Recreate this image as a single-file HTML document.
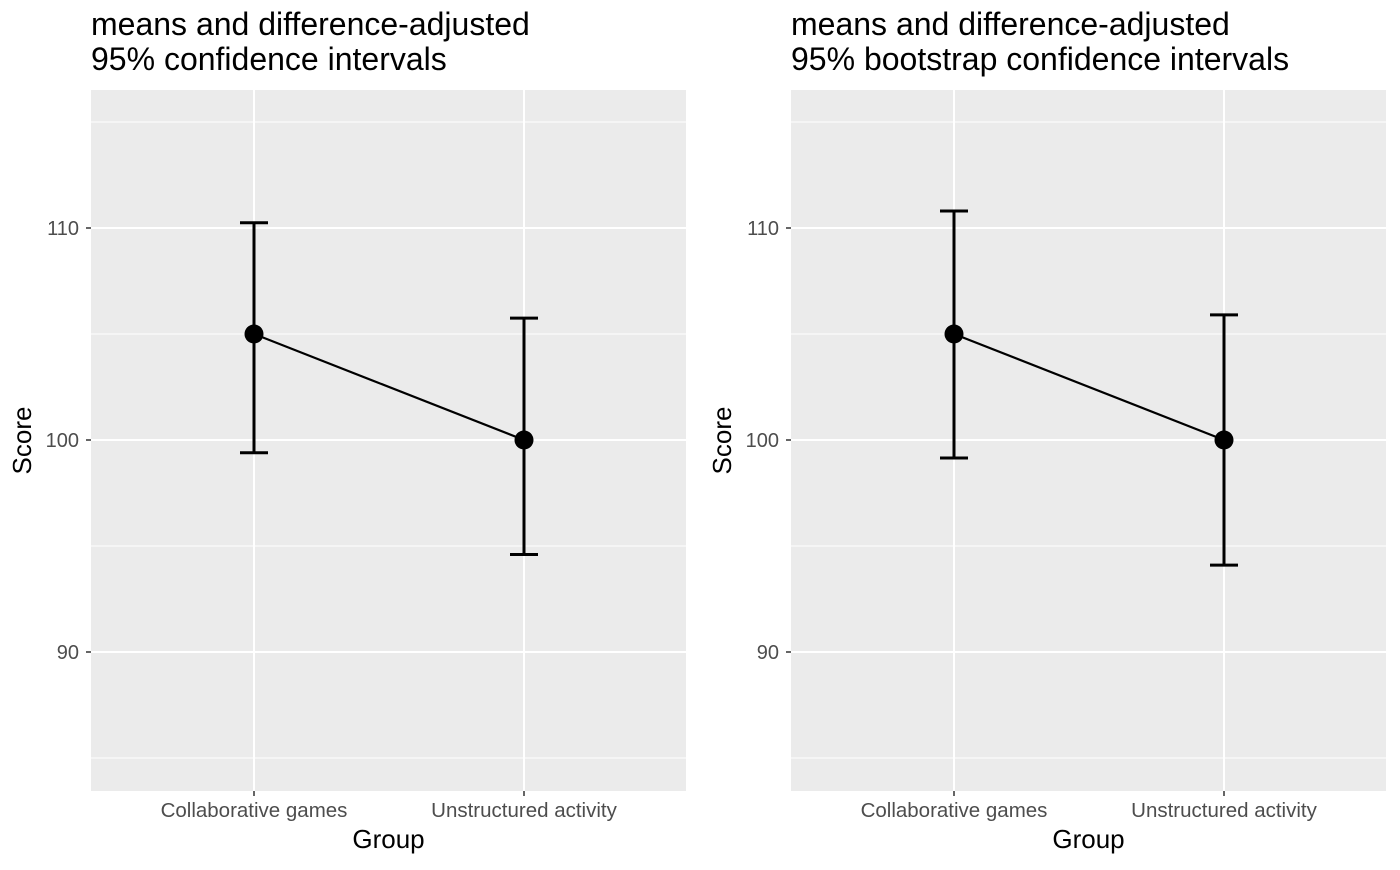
<!DOCTYPE html>
<html><head><meta charset="utf-8"><style>
body{margin:0;background:#fff;}
svg{font-family:"Liberation Sans",Arial,sans-serif;}
</style></head><body>
<svg id="c" width="1400" height="865" xmlns="http://www.w3.org/2000/svg"></svg>
<script>
const categories=["Collaborative games","Unstructured activity"];
const means=[105,100];
const leftLower=[99.4,94.6];
const leftUpper=[110.25,105.75];
const rightLower=[99.15,94.1];
const rightUpper=[110.8,105.9];
const yTicks=[90,100,110];
const yMinor=[85,95,105,115];
const titles=[["means and difference-adjusted","95% confidence intervals"],["means and difference-adjusted","95% bootstrap confidence intervals"]];
const NS="http://www.w3.org/2000/svg";
const svg=document.getElementById('c');
function mk(tag,attrs,parent){const e=document.createElementNS(NS,tag);for(const k in attrs)e.setAttribute(k,attrs[k]);(parent||svg).appendChild(e);return e;}
function panel(px0,lower,upper,tl,idx){
  const x0=px0,x1=px0+595,y0=90,y1=791;
  const yv=v=>440-(v-100)*21.2;
  const xc=i=>x0+163+i*270;
  const g=mk('g',{});
  
  
  const bg=mk('rect',{x:x0,y:y0,width:x1-x0,height:y1-y0,fill:'#EBEBEB'},g);
  
  yMinor.forEach(v=>{const l=mk('line',{x1:x0,x2:x1,y1:yv(v),y2:yv(v),stroke:'#fff','stroke-width':1},g);});
  yTicks.forEach(v=>{const l=mk('line',{x1:x0,x2:x1,y1:yv(v),y2:yv(v),stroke:'#fff','stroke-width':2},g);
    const t=mk('line',{x1:x0-5,x2:x0,y1:yv(v),y2:yv(v),stroke:'#333','stroke-width':1.5},g);
    const tx=mk('text',{x:x0-12,y:yv(v)+7,'text-anchor':'end','font-size':20,fill:'#4D4D4D'},g);tx.textContent=v;});
  categories.forEach((c,i)=>{const l=mk('line',{x1:xc(i),x2:xc(i),y1:y0,y2:y1,stroke:'#fff','stroke-width':2},g);
    const t=mk('line',{x1:xc(i),x2:xc(i),y1:y1,y2:y1+5,stroke:'#333','stroke-width':1.5},g);
    const tx=mk('text',{x:xc(i),y:y1+26,'text-anchor':'middle','font-size':20.5,fill:'#4D4D4D'},g);tx.textContent=c;});
  const ln=mk('line',{x1:xc(0),y1:yv(means[0]),x2:xc(1),y2:yv(means[1]),stroke:'#000','stroke-width':2.2},g);
  
  categories.forEach((c,i)=>{
    const x=xc(i),a=yv(upper[i]),b=yv(lower[i]);
    const e=mk('path',{d:`M${x-14},${a}H${x+14}M${x},${a}V${b}M${x-14},${b}H${x+14}`,stroke:'#000','stroke-width':3,fill:'none'},g);
    
    const p=mk('circle',{cx:x,cy:yv(means[i]),r:9.5,fill:'#000'},g);
    
  });
  tl.forEach((s,k)=>{const t=mk('text',{x:x0,y:35+k*35,'font-size':32,fill:'#000'},g);t.textContent=s;});
  const xt=mk('text',{x:(x0+x1)/2,y:848,'text-anchor':'middle','font-size':26},g);xt.textContent='Group';
  const yt=mk('text',{x:0,y:0,'text-anchor':'middle','font-size':26,transform:`translate(${x0-60},${(y0+y1)/2}) rotate(-90)`},g);yt.textContent='Score';
}
panel(91,leftLower,leftUpper,titles[0],0);
panel(791,rightLower,rightUpper,titles[1],1);
</script>
</body></html>
